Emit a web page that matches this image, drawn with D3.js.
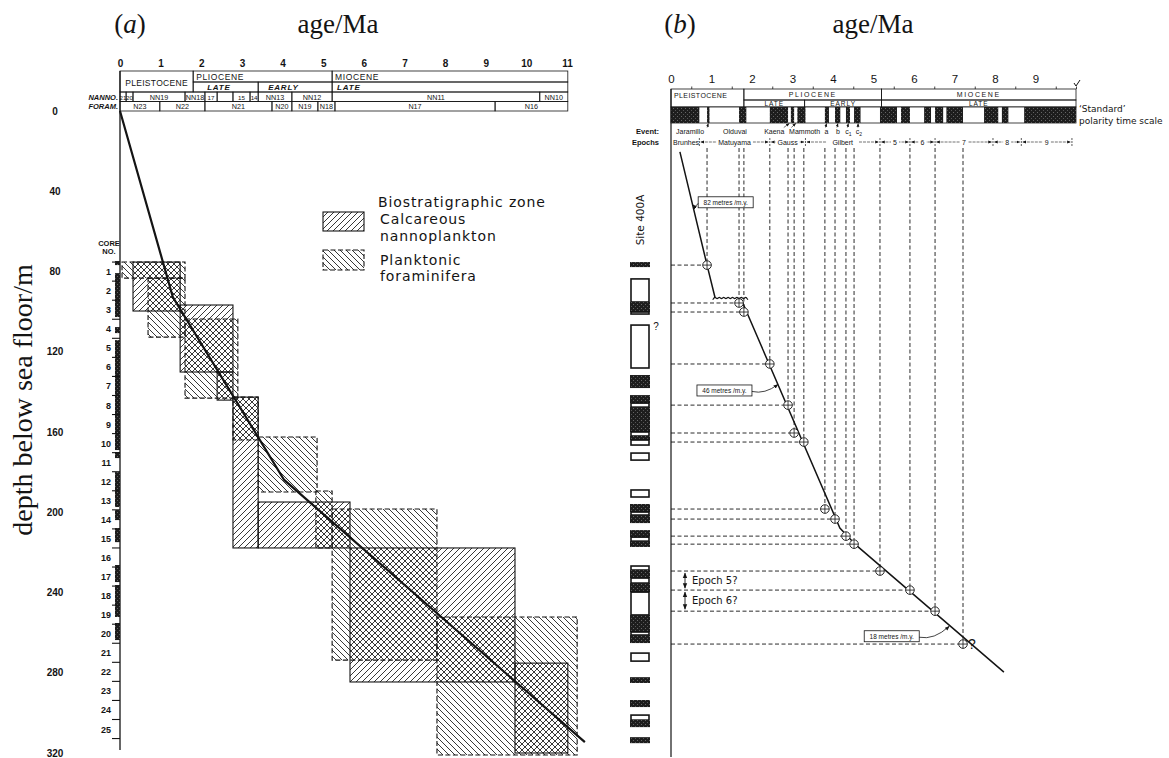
<!DOCTYPE html>
<html>
<head>
<meta charset="utf-8">
<script src="https://cdn.jsdelivr.net/npm/d3@7"></script>
<style>
  html,body{margin:0;padding:0;background:#fff;}
  svg{display:block;}
</style>
</head>
<body>
<svg id="fig" width="1169" height="758"></svg>
<script>
// ---------------- tick values ----------------
const ageTicksA = [0,1,2,3,4,5,6,7,8,9,10,11];
const ageTicksB = [0,1,2,3,4,5,6,7,8,9];
const ageMinorB = [0.5,1.5,2.5,3.5,4.5,5.5,6.5,7.5,8.5,9.5,10];
const depthTicks = [0,40,80,120,160,200,240,280,320];

// ---------------- panel (a): stratigraphic header ----------------
const seriesA = [
  {name:"PLEISTOCENE", from:0, to:1.8, both:true},
  {name:"PLIOCENE", from:1.8, to:5.22},
  {name:"MIOCENE", from:5.22, to:11.02}
];
const stagesA = [
  {name:"LATE", from:1.8, to:3.4},
  {name:"EARLY", from:3.4, to:5.22},
  {name:"LATE", from:5.22, to:11.02}
];
const nannoHeader = [
  {name:"21", from:0, to:0.15}, {name:"20", from:0.15, to:0.32},
  {name:"NN19", from:0.32, to:1.6}, {name:"NN18", from:1.6, to:2.09},
  {name:"17", from:2.09, to:2.39}, {name:"", from:2.39, to:2.78},
  {name:"15", from:2.78, to:3.2}, {name:"14", from:3.2, to:3.4},
  {name:"NN13", from:3.4, to:4.23}, {name:"NN12", from:4.23, to:5.22},
  {name:"NN11", from:5.22, to:10.33}, {name:"NN10", from:10.33, to:11.02}
];
const foramHeader = [
  {name:"N23", from:0, to:0.98}, {name:"N22", from:0.98, to:2.09},
  {name:"N21", from:2.09, to:3.74}, {name:"N20", from:3.74, to:4.23},
  {name:"N19", from:4.23, to:4.87}, {name:"N18", from:4.87, to:5.29},
  {name:"N17", from:5.29, to:9.23}, {name:"N16", from:9.23, to:11.02}
];

// ---------------- panel (a): zone ranges in the cores ----------------
// age range (Ma) against depth range (m below sea floor)
const nannoRanges = [
  {from:0.32, to:1.48, top:75.3,  bottom:99.7},
  {from:1.48, to:2.78, top:96.7,  bottom:130.1},
  {from:2.39, to:2.78, top:130.1, bottom:144.1},
  {from:2.78, to:3.40, top:142.6, bottom:217.8},
  {from:3.40, to:5.66, top:194.9, bottom:217.8},
  {from:5.66, to:9.72, top:217.8, bottom:284.6},
  {from:9.72, to:11.02, top:275.2, bottom:320.0}
];
const foramRanges = [
  {from:0.05, to:1.60, top:75.3,  bottom:83.3},
  {from:0.69, to:1.60, top:83.3,  bottom:112.7},
  {from:1.60, to:2.90, top:103.7, bottom:143.1},
  {from:2.78, to:3.40, top:142.6, bottom:164.0},
  {from:3.40, to:4.85, top:162.5, bottom:189.9},
  {from:4.82, to:5.22, top:189.4, bottom:217.8},
  {from:5.22, to:7.80, top:198.4, bottom:273.7},
  {from:7.80, to:11.25, top:252.2, bottom:321.0}
];
const ageDepthA = [[0,0],[1.30,92.7],[4.04,183.9],[11.44,314.6]];

// cores: top depth of each core (m), recovered intervals (m)
const coreTops = [75.3,84.8,94.3,103.8,113.3,122.8,132.3,141.8,151.3,160.8,170.3,179.8,189.3,
                  198.8,208.3,217.8,227.3,236.8,246.3,255.8,265.3,274.8,284.3,293.8,303.3];
const coreBase = 312.8;
const recoveredA = [[74.8,76.8],[80.8,102.7],[107.7,110.7],[114.2,169.0],[170.0,173.0],[180.0,197.4],
                    [198.9,203.9],[207.9,214.9],[226.3,234.8],[236.3,252.2],[255.2,263.7]];

// ---------------- panel (b) ----------------
const seriesB = [
  {name:"PLEISTOCENE", from:0, to:1.8, both:true},
  {name:"PLIOCENE", from:1.8, to:5.2},
  {name:"MIOCENE", from:5.2, to:10}
];
const stagesB = [
  {name:"LATE", from:1.8, to:3.3},
  {name:"EARLY", from:3.3, to:5.2},
  {name:"LATE", from:5.2, to:10}
];
// normal-polarity intervals (Ma)
const normalPolarity = [[0,0.70],[0.89,0.95],[1.68,1.86],[2.44,2.89],[2.96,3.04],[3.12,3.32],
  [3.80,3.90],[4.05,4.18],[4.32,4.42],[4.52,4.68],[5.16,5.58],[5.68,5.90],[6.25,6.42],
  [6.52,6.72],[6.80,7.21],[7.73,8.08],[8.17,8.33],[8.72,10.0]];
const events = [
  {name:"Jaramillo", at:0.47, target:0.92},
  {name:"Olduvai", at:1.58, target:null},
  {name:"Kaena", at:2.55, target:2.92},
  {name:"Mammoth", at:3.30, target:3.08},
  {name:"a", at:3.84, target:3.84},
  {name:"b", at:4.12, target:4.12},
  {name:"c1", at:4.38, target:4.38},
  {name:"c2", at:4.64, target:4.62}
];
const epochs = [
  {name:"Brunhes", from:0, to:0.70, plain:true},
  {name:"Matuyama", from:0.70, to:2.44},
  {name:"Gauss", from:2.44, to:3.32},
  {name:"Gilbert", from:3.32, to:5.16},
  {name:"5", from:5.16, to:5.90},
  {name:"6", from:5.90, to:6.52},
  {name:"7", from:6.52, to:7.95},
  {name:"8", from:7.95, to:8.65},
  {name:"9", from:8.65, to:9.90}
];
// magnetic reversals identified in the cores: [age Ma, depth m]
const tiePoints = [[0.89,76.8],[1.68,95.7],[1.80,100.2],[2.44,126.1],[2.89,146.6],[3.04,160.5],
  [3.28,165.0],[3.80,198.4],[4.05,203.4],[4.32,211.9],[4.52,215.9],[5.16,229.3],[5.90,238.8],
  [6.52,249.3],[7.21,265.7]];
const rateUpper = [[0.22,20.4],[0.89,76.8],[1.09,93.2]];
const hiatus = {from:1.03, to:1.95, depth:93.2};
const rateLower = [[1.73,93.7],[4.17,207.9],[4.57,216.4],[8.22,279.7]];
const rateLabels = [
  {text:"82 metres /m.y.", age:1.35, depth:45.5, toAge:0.54, toDepth:46.8},
  {text:"46 metres /m.y.", age:1.32, depth:139.3, toAge:2.64, toDepth:136.3},
  {text:"18 metres /m.y.", age:5.45, depth:261.8, toAge:6.87, toDepth:256.8}
];
// Site 400A core log: [top m, bottom m, kind] n = recovered sediment, w = void / disturbed
const coreLogB = [[75.3,77.8,"n"],[83.7,95.2,"w"],[95.2,100.2,"n"],[100.2,101.2,"w"],[106.7,128.1,"w"],
  [131.6,138.1,"n"],[141.6,145.6,"n"],[145.6,147.6,"w"],[147.6,160.0,"n"],[160.0,162.0,"w"],
  [162.0,164.0,"n"],[164.0,166.5,"w"],[170.5,174.0,"w"],[188.9,192.4,"w"],[195.9,199.9,"n"],
  [199.9,201.4,"w"],[201.4,205.4,"n"],[208.9,212.4,"n"],[212.4,214.4,"w"],[214.4,217.3,"n"],
  [226.8,228.8,"w"],[228.8,232.8,"n"],[232.8,235.3,"w"],[235.3,239.8,"n"],[239.8,251.2,"w"],
  [251.2,259.7,"n"],[259.7,261.2,"w"],[261.2,265.2,"n"],[270.2,274.2,"w"],[282.2,285.1,"n"],
  [293.6,297.1,"n"],[301.1,303.6,"w"],[303.6,307.1,"n"],[312.1,315.1,"n"]];

// ---------------- drawing ----------------
const INK = "#141414";
const SERIF = "'Liberation Serif','DejaVu Serif',serif";
const SANS = "'DejaVu Sans','Liberation Sans',sans-serif";
const ARIAL = "'Liberation Sans','DejaVu Sans',sans-serif";

const svg = d3.select("#fig");
svg.append("rect").attr("width",1169).attr("height",758).attr("fill","#fff");
const defs = svg.append("defs");

function hatch(id, d){
  const p = defs.append("pattern").attr("id",id).attr("patternUnits","userSpaceOnUse")
    .attr("width",6).attr("height",6);
  p.append("path").attr("d",d).attr("stroke",INK).attr("stroke-width",0.85).attr("fill","none");
}
hatch("fwd","M-1,1L1,-1M0,6L6,0M5,7L7,5");
hatch("bwd","M-1,5L1,7M0,0L6,6M5,-1L7,1");

const st = defs.append("pattern").attr("id","stip").attr("patternUnits","userSpaceOnUse")
  .attr("width",4).attr("height",4);
st.append("rect").attr("width",4).attr("height",4).attr("fill","#1d1d1d");
st.append("rect").attr("x",1).attr("y",0).attr("width",1).attr("height",1).attr("fill","#666");
st.append("rect").attr("x",3).attr("y",2).attr("width",1).attr("height",1).attr("fill","#555");

const mk = defs.append("marker").attr("id","arr").attr("viewBox","0 0 10 10")
  .attr("refX",9).attr("refY",5).attr("markerWidth",6).attr("markerHeight",6)
  .attr("orient","auto-start-reverse");
mk.append("path").attr("d","M0,1L10,5L0,9z").attr("fill",INK);

function txt(g, x, y, s, size, opts={}){
  const t = g.append("text").attr("x",x).attr("y",y).text(s)
    .attr("font-size",size).attr("font-family",opts.family||ARIAL).attr("fill",INK)
    .attr("text-anchor",opts.anchor||"middle");
  if(opts.weight) t.attr("font-weight",opts.weight);
  if(opts.style) t.attr("font-style",opts.style);
  if(opts.ls) t.attr("letter-spacing",opts.ls);
  return t;
}

// ====== PANEL (a) ======
const xA = d3.scaleLinear().domain([0,11]).range([120,567]);
const yD = d3.scaleLinear().domain([0,320]).range([111,753]);
const gA = svg.append("g");

// titles
const ta = gA.append("text").attr("x",130).attr("y",33).attr("text-anchor","middle")
  .attr("font-family",SERIF).attr("font-size",27).attr("fill",INK);
ta.append("tspan").text("(");
ta.append("tspan").attr("font-style","italic").text("a");
ta.append("tspan").text(")");
txt(gA, 338, 33, "age/Ma", 27, {family:SERIF});

// header rows
const hA = {top:71, r1:82, r2:92, r3:101.5, bot:111};
const axA = gA.append("g").attr("transform",`translate(0,${hA.top})`)
  .call(d3.axisTop(xA).tickValues(ageTicksA).tickSize(0).tickPadding(4).tickFormat(d3.format("d")));
axA.select(".domain").remove();
axA.selectAll("text").attr("font-size",10).attr("font-weight","bold").attr("font-family",ARIAL).attr("fill",INK);

const hdr = gA.append("g").attr("fill","none").attr("stroke",INK).attr("stroke-width",0.8);
seriesA.forEach(s=>{
  hdr.append("rect").attr("x",xA(s.from)).attr("y",hA.top).attr("width",xA(s.to)-xA(s.from))
    .attr("height",(s.both?hA.r2:hA.r1)-hA.top);
  if(s.both) txt(gA,(xA(s.from)+xA(s.to))/2, 85.5, s.name, 8.5, {ls:0.3});
  else txt(gA, xA(s.from)+3, 80, s.name, 8.5, {anchor:"start", ls:0.6});
});
stagesA.forEach(s=>{
  hdr.append("rect").attr("x",xA(s.from)).attr("y",hA.r1).attr("width",xA(s.to)-xA(s.from)).attr("height",hA.r2-hA.r1);
  txt(gA, xA(s.from)+(s.name==="EARLY"?10:(s.from<3?14:5)), 90.3, s.name, 8, {anchor:"start", style:"italic", weight:"bold", ls:0.8});
});
nannoHeader.forEach(z=>{
  hdr.append("rect").attr("x",xA(z.from)).attr("y",hA.r2).attr("width",xA(z.to)-xA(z.from)).attr("height",hA.r3-hA.r2);
  txt(gA,(xA(z.from)+xA(z.to))/2, 99.6, z.name, z.name.length<3?6.2:7.2);
});
foramHeader.forEach(z=>{
  hdr.append("rect").attr("x",xA(z.from)).attr("y",hA.r3).attr("width",xA(z.to)-xA(z.from)).attr("height",hA.bot-hA.r3);
  txt(gA,(xA(z.from)+xA(z.to))/2, 109.2, z.name, 7.2);
});
txt(gA, 118, 99.8, "NANNO.", 7.5, {anchor:"end", style:"italic", weight:"bold"});
txt(gA, 118, 109.3, "FORAM.", 7.5, {anchor:"end", style:"italic", weight:"bold"});

// depth axis
const axD = gA.append("g").attr("transform","translate(66,0)")
  .call(d3.axisLeft(yD).tickValues(depthTicks).tickSize(0).tickPadding(0));
axD.select(".domain").remove();
axD.selectAll("text").attr("x",-11).attr("text-anchor","middle").attr("font-size",10)
  .attr("font-weight","bold").attr("font-family",ARIAL).attr("fill",INK);
gA.append("text").attr("transform","translate(32,400) rotate(-90)").attr("text-anchor","middle")
  .attr("font-family",SERIF).attr("font-size",28).attr("fill",INK).text("depth below sea floor/m");

// core column
gA.append("line").attr("x1",xA(0)).attr("x2",xA(0)).attr("y1",hA.top).attr("y2",750)
  .attr("stroke",INK).attr("stroke-width",1.3);
gA.append("g").selectAll("rect").data(recoveredA).join("rect")
  .attr("x",115).attr("width",xA(0)-115).attr("y",d=>yD(d[0])).attr("height",d=>yD(d[1])-yD(d[0]))
  .attr("fill","url(#stip)");
gA.append("g").selectAll("line").data(coreTops.concat([coreBase])).join("line")
  .attr("x1",112).attr("x2",xA(0)).attr("y1",d=>yD(d)).attr("y2",d=>yD(d))
  .attr("stroke",INK).attr("stroke-width",1.1);
gA.append("g").selectAll("text").data(coreTops).join("text")
  .attr("x",111).attr("y",(d,i)=>yD(d+4.75)+3.5).attr("text-anchor","end")
  .attr("font-size",9).attr("font-weight","bold").attr("font-family",ARIAL).attr("fill",INK)
  .text((d,i)=>i+1);
txt(gA, 109, 246, "CORE", 7.5, {weight:"bold"});
txt(gA, 109, 254, "NO.", 7.5, {weight:"bold"});

// zone ranges: fills then outlines
const boxA = gA.append("g");
boxA.selectAll("rect.f").data(foramRanges).join("rect").attr("class","f")
  .attr("x",d=>xA(d.from)).attr("y",d=>yD(d.top)).attr("width",d=>xA(d.to)-xA(d.from))
  .attr("height",d=>yD(d.bottom)-yD(d.top)).attr("fill","url(#bwd)");
boxA.selectAll("rect.n").data(nannoRanges).join("rect").attr("class","n")
  .attr("x",d=>xA(d.from)).attr("y",d=>yD(d.top)).attr("width",d=>xA(d.to)-xA(d.from))
  .attr("height",d=>yD(d.bottom)-yD(d.top)).attr("fill","url(#fwd)");
boxA.selectAll("rect.fo").data(foramRanges).join("rect").attr("class","fo")
  .attr("x",d=>xA(d.from)).attr("y",d=>yD(d.top)).attr("width",d=>xA(d.to)-xA(d.from))
  .attr("height",d=>yD(d.bottom)-yD(d.top)).attr("fill","none").attr("stroke",INK)
  .attr("stroke-width",1.1).attr("stroke-dasharray","5,2.5");
boxA.selectAll("rect.no").data(nannoRanges).join("rect").attr("class","no")
  .attr("x",d=>xA(d.from)).attr("y",d=>yD(d.top)).attr("width",d=>xA(d.to)-xA(d.from))
  .attr("height",d=>yD(d.bottom)-yD(d.top)).attr("fill","none").attr("stroke",INK).attr("stroke-width",1.1);

gA.append("path").datum(ageDepthA)
  .attr("d",d3.line().x(d=>xA(d[0])).y(d=>yD(d[1])))
  .attr("fill","none").attr("stroke",INK).attr("stroke-width",2.2);

// legend
const lg = gA.append("g");
const LS = {anchor:"start", family:SANS, ls:0.9};
txt(lg, 378, 207, "Biostratigraphic zone", 14, LS);
lg.append("rect").attr("x",323).attr("y",212).attr("width",41).attr("height",19).attr("fill","url(#fwd)");
lg.append("rect").attr("x",323).attr("y",212).attr("width",41).attr("height",19).attr("fill","none").attr("stroke",INK).attr("stroke-width",1.1);
txt(lg, 380, 224, "Calcareous", 14, LS);
txt(lg, 380, 240.5, "nannoplankton", 14, LS);
lg.append("rect").attr("x",323).attr("y",250).attr("width",41).attr("height",20).attr("fill","url(#bwd)");
lg.append("rect").attr("x",323).attr("y",250).attr("width",41).attr("height",20).attr("fill","none").attr("stroke",INK).attr("stroke-width",1.1).attr("stroke-dasharray","5,2.5");
txt(lg, 380, 264.5, "Planktonic", 14, LS);
txt(lg, 380, 281, "foraminifera", 14, LS);

// ====== PANEL (b) ======
const xB = d3.scaleLinear().domain([0,10]).range([671,1076]);
const gB = svg.append("g");
const tb = gB.append("text").attr("x",680).attr("y",33).attr("text-anchor","middle")
  .attr("font-family",SERIF).attr("font-size",27).attr("fill",INK);
tb.append("tspan").text("(");
tb.append("tspan").attr("font-style","italic").text("b");
tb.append("tspan").text(")");
txt(gB, 873, 33, "age/Ma", 27, {family:SERIF});

const hB = {top:89, r1:100, r2:107, bar:123, ev:131.5, ep:142};
const axB = gB.append("g").attr("transform",`translate(0,${hB.top})`)
  .call(d3.axisTop(xB).tickValues(ageTicksB).tickSize(0).tickPadding(6).tickFormat(d3.format("d")));
axB.select(".domain").remove();
axB.selectAll("text").attr("font-size",11.5).attr("font-family",ARIAL).attr("fill",INK);
const axBm = gB.append("g").attr("transform",`translate(0,${hB.top})`)
  .call(d3.axisTop(xB).tickValues(ageMinorB).tickSize(2.5).tickFormat(""));
axBm.select(".domain").remove();
axBm.selectAll("line").attr("stroke",INK).attr("stroke-width",0.8);
// end-of-scale mark
gB.append("path").attr("d",`M${xB(10)-2},${hB.top-6} l2,3 l4,-6`).attr("fill","none")
  .attr("stroke",INK).attr("stroke-width",1);

const hdrB = gB.append("g").attr("fill","none").attr("stroke",INK).attr("stroke-width",0.8);
seriesB.forEach(s=>{
  hdrB.append("rect").attr("x",xB(s.from)).attr("y",hB.top).attr("width",xB(s.to)-xB(s.from))
    .attr("height",(s.both?hB.r2:hB.r1)-hB.top);
  if(s.both) txt(gB, xB(s.from)+3, 97.5, s.name, 7, {anchor:"start", ls:0.4});
  else txt(gB,(xB(s.from)+xB(s.to))/2, 97.3, s.name, 7, {ls:1.6});
});
stagesB.forEach(s=>{
  hdrB.append("rect").attr("x",xB(s.from)).attr("y",hB.r1).attr("width",xB(s.to)-xB(s.from)).attr("height",hB.r2-hB.r1);
  txt(gB,(xB(s.from)+xB(s.to))/2, 106, s.name, 6.5, {ls:1});
});
// polarity bar
gB.append("rect").attr("x",xB(0)).attr("y",hB.r2).attr("width",xB(10)-xB(0)).attr("height",hB.bar-hB.r2)
  .attr("fill","#fff").attr("stroke",INK).attr("stroke-width",0.8);
gB.append("g").selectAll("rect").data(normalPolarity).join("rect")
  .attr("x",d=>xB(d[0])).attr("width",d=>xB(d[1])-xB(d[0])).attr("y",hB.r2).attr("height",hB.bar-hB.r2)
  .attr("fill","url(#stip)");
txt(gB, 1079, 112, "\u2018Standard\u2019", 9, {anchor:"start", family:SANS});
txt(gB, 1079, 124, "polarity time scale", 9, {anchor:"start", family:SANS});

// events
txt(gB, 659, hB.ev+2, "Event:", 7.5, {anchor:"end", weight:"bold"});
events.forEach(e=>{
  const t = gB.append("text").attr("x",xB(e.at)).attr("y",hB.ev+2).attr("text-anchor","middle")
    .attr("font-size",7).attr("font-family",ARIAL).attr("fill",INK);
  if(e.name.length===2){ t.append("tspan").text(e.name[0]); t.append("tspan").attr("font-size",5).attr("dy",2).text(e.name[1]); }
  else t.text(e.name);
  if(e.target!==null){
    const x0 = e.name.length>2 ? xB(e.at) + (e.target>e.at?1:-1)*e.name.length*1.9 : xB(e.at)-1;
    gB.append("line").attr("x1",x0).attr("y1",hB.ev-4).attr("x2",xB(e.target)).attr("y2",hB.bar+0.5)
      .attr("stroke",INK).attr("stroke-width",0.6).attr("marker-end","url(#arr)");
  }
});

// epochs
txt(gB, 659, hB.ep+2.5, "Epochs", 7.5, {anchor:"end", weight:"bold"});
epochs.forEach(e=>{
  const a = xB(e.from), b = xB(e.to), m = (a+b)/2;
  gB.append("line").attr("x1",b).attr("x2",b).attr("y1",hB.ep-4).attr("y2",hB.ep+4)
    .attr("stroke",INK).attr("stroke-width",0.7).attr("stroke-dasharray","2,1");
  if(e.plain){ txt(gB, a+2, hB.ep+2.5, e.name, 7, {anchor:"start"}); return; }
  gB.append("line").attr("x1",a+1.5).attr("x2",b-1.5).attr("y1",hB.ep).attr("y2",hB.ep)
    .attr("stroke",INK).attr("stroke-width",0.6).attr("stroke-dasharray","3,1")
    .attr("marker-start","url(#arr)").attr("marker-end","url(#arr)");
  const w = e.name.length*4 + 4;
  gB.append("rect").attr("x",m-w/2).attr("y",hB.ep-4).attr("width",w).attr("height",8).attr("fill","#fff");
  txt(gB, m, hB.ep+2.5, e.name, 7);
});

// axis line and core log
gB.append("line").attr("x1",xB(0)).attr("x2",xB(0)).attr("y1",hB.top).attr("y2",757)
  .attr("stroke",INK).attr("stroke-width",1.2);
gB.append("text").attr("transform","translate(644,220) rotate(-90)").attr("text-anchor","middle")
  .attr("font-size",10.5).attr("font-family",SANS).attr("fill",INK).text("Site 400A");
gB.append("g").selectAll("rect").data(coreLogB).join("rect")
  .attr("x",d=>d[2]==="n"?630:631).attr("width",d=>d[2]==="n"?20:18)
  .attr("y",d=>yD(d[0])).attr("height",d=>yD(d[1])-yD(d[0]))
  .attr("fill",d=>d[2]==="n"?"url(#stip)":"#fff")
  .attr("stroke",d=>d[2]==="n"?"none":INK).attr("stroke-width",1.6);
txt(gB, 656, 330, "?", 10);

// reference lines from the tie points
const dl = gB.append("g").attr("stroke",INK).attr("stroke-width",0.9).attr("stroke-dasharray","4,2.5").attr("fill","none");
dl.selectAll("line.v").data(tiePoints).join("line").attr("class","v")
  .attr("x1",d=>xB(d[0])).attr("x2",d=>xB(d[0])).attr("y1",hB.ep+6).attr("y2",d=>yD(d[1])-4.5);
dl.selectAll("line.h").data(tiePoints).join("line").attr("class","h")
  .attr("x1",xB(0)).attr("x2",d=>xB(d[0])-4.5).attr("y1",d=>yD(d[1])).attr("y2",d=>yD(d[1]));

// sedimentation-rate lines
const lineB = d3.line().x(d=>xB(d[0])).y(d=>yD(d[1]));
gB.append("path").datum(rateUpper).attr("d",lineB).attr("fill","none").attr("stroke",INK).attr("stroke-width",1.5);
gB.append("path").datum(rateLower).attr("d",lineB).attr("fill","none").attr("stroke",INK).attr("stroke-width",1.5);
// unconformity squiggle
{
  const x1 = xB(hiatus.from), x2 = xB(hiatus.to), y = yD(hiatus.depth);
  const pts = [];
  let k = 0;
  for(let x = x1; x <= x2; x += 2.2, k++) pts.push([x, y + (k%2 ? -1.8 : 1.8)]);
  gB.append("path").attr("d", d3.line().curve(d3.curveBasis)(pts))
    .attr("fill","none").attr("stroke",INK).attr("stroke-width",1.1);
}

// tie-point symbols
const tp = gB.append("g").selectAll("g").data(tiePoints).join("g")
  .attr("transform",d=>`translate(${xB(d[0])},${yD(d[1])})`);
tp.append("circle").attr("r",4.3).attr("fill","#fff").attr("stroke",INK).attr("stroke-width",0.9);
tp.append("path").attr("d","M-4.3,0H4.3M0,-4.3V4.3").attr("stroke",INK).attr("stroke-width",0.8);
{
  const last = tiePoints[tiePoints.length-1];
  txt(gB, xB(last[0])+9, yD(last[1])+5, "?", 14);
}

// rate labels
rateLabels.forEach(r=>{
  const cx = xB(r.age), cy = yD(r.depth);
  const w = 55, h = 11;
  gB.append("rect").attr("x",cx-w/2).attr("y",cy-h/2).attr("width",w).attr("height",h)
    .attr("fill","#fff").attr("stroke",INK).attr("stroke-width",0.8);
  txt(gB, cx, cy+2.3, r.text, 6.5);
  const tx = xB(r.toAge), ty = yD(r.toDepth);
  const sx = tx < cx ? cx - w/2 : cx + w/2;
  const sy = cy + 1;
  gB.append("path").attr("d",`M${sx},${sy} Q${(sx+tx)/2},${Math.max(sy,ty)+3} ${tx},${ty}`)
    .attr("fill","none").attr("stroke",INK).attr("stroke-width",0.8).attr("marker-end","url(#arr)");
});

// epoch 5? / 6? brackets
{
  const ax = 685;
  const d5 = tiePoints[11][1], d6 = tiePoints[12][1], d7 = tiePoints[13][1];
  [[d5,d6,"Epoch 5?"],[d6,d7,"Epoch 6?"]].forEach(([a,b,s])=>{
    gB.append("line").attr("x1",ax).attr("x2",ax).attr("y1",yD(a)+2).attr("y2",yD(b)-2)
      .attr("stroke",INK).attr("stroke-width",0.9)
      .attr("marker-start","url(#arr)").attr("marker-end","url(#arr)");
    txt(gB, ax+7, (yD(a)+yD(b))/2+3.5, s, 10, {anchor:"start", family:SANS});
  });
}
</script>
</body>
</html>
